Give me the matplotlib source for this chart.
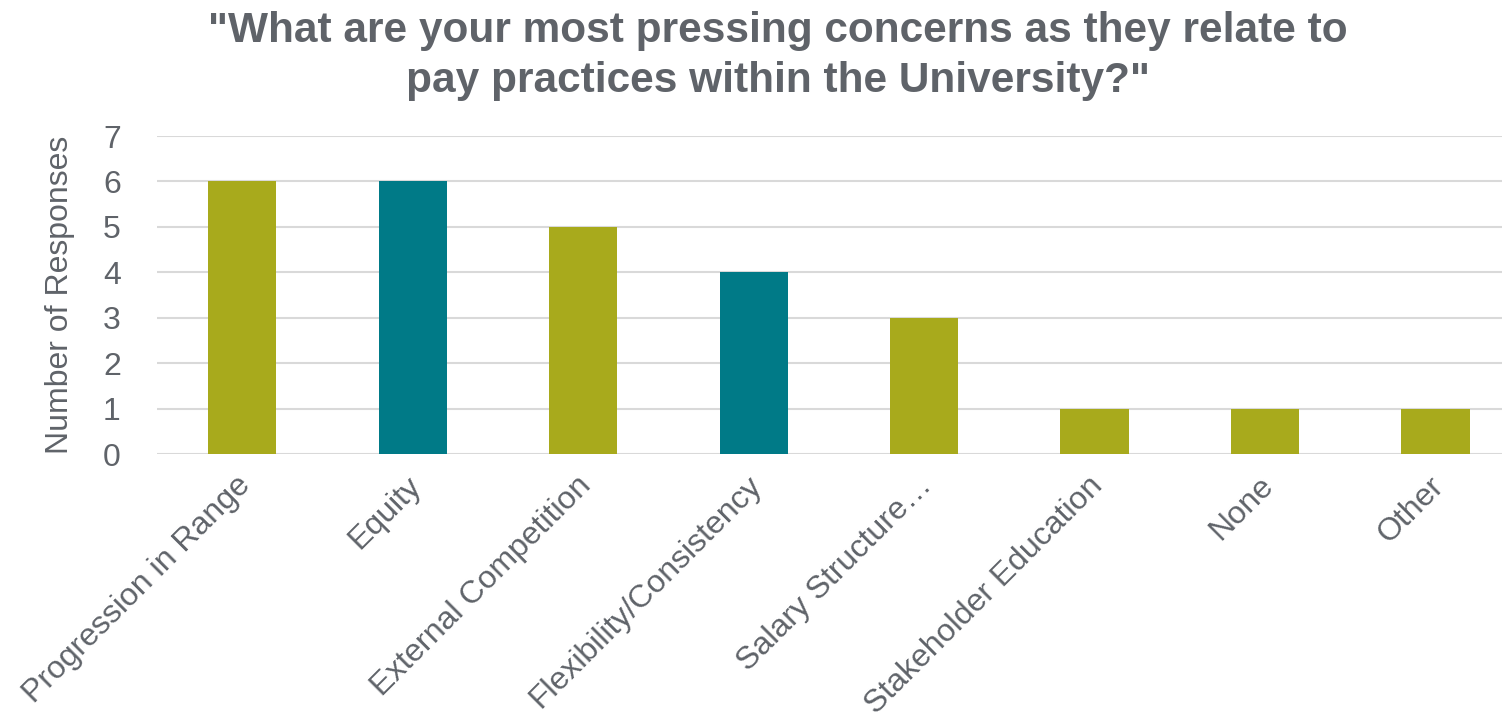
"""
Bar chart of most pressing pay-practice concerns.
"""

import matplotlib
matplotlib.use("Agg")
import matplotlib.pyplot as plt
from matplotlib.transforms import ScaledTranslation

categories = ["Progression in Range", "Equity", "External Competition",
              "Flexibility/Consistency", "Salary Structure\u2026",
              "Stakeholder Education", "None", "Other"]
responses = [6, 6, 5, 4, 3, 1, 1, 1]
bar_colors = ["#A8AA1C", "#007A87", "#A8AA1C", "#007A87",
              "#A8AA1C", "#A8AA1C", "#A8AA1C", "#A8AA1C"]
y_ticks = [0, 1, 2, 3, 4, 5, 6, 7]

TEXT = "#5F6369"


def main():
    plt.rcParams["font.family"] = ["Liberation Sans", "DejaVu Sans"]
    fig = plt.figure(figsize=(15.02, 7.17), dpi=100)
    # the plot area runs past the right edge of the figure, as in the original
    ax = fig.add_axes([0.1045, 0.3668, 0.908, 0.4435])

    x = list(range(len(categories)))
    ax.bar(x, responses, width=0.4, color=bar_colors, zorder=3)

    ax.set_xlim(-0.5, len(categories) - 0.5)
    ax.set_ylim(0, 7)
    ax.set_yticks(y_ticks)
    ax.grid(axis="y", color="#D9D9D9", linewidth=1.5, zorder=0)
    for s in ax.spines.values():
        s.set_visible(False)
    ax.tick_params(length=0, colors=TEXT, labelsize=23)
    ax.tick_params(axis="y", pad=26)
    ax.tick_params(axis="x", pad=12)

    ax.set_xticks(x)
    ax.set_xticklabels(categories, rotation=45, ha="right",
                       rotation_mode="anchor", fontsize=23, color=TEXT)
    # nudge the slanted labels a little to the left
    shift = ScaledTranslation(-7 / 100, 0, fig.dpi_scale_trans)
    for lbl in ax.get_xticklabels():
        lbl.set_transform(lbl.get_transform() + shift)
    ax.set_ylabel("Number of Responses", fontsize=23, color=TEXT, labelpad=20)

    fig.suptitle('"What are your most pressing concerns as they relate to\n'
                 'pay practices within the University?"',
                 fontsize=30.5, fontweight="bold", color=TEXT,
                 x=0.518, y=0.985, linespacing=1.32)

    fig.savefig("out.png", dpi=100)


if __name__ == '__main__':
    main()
